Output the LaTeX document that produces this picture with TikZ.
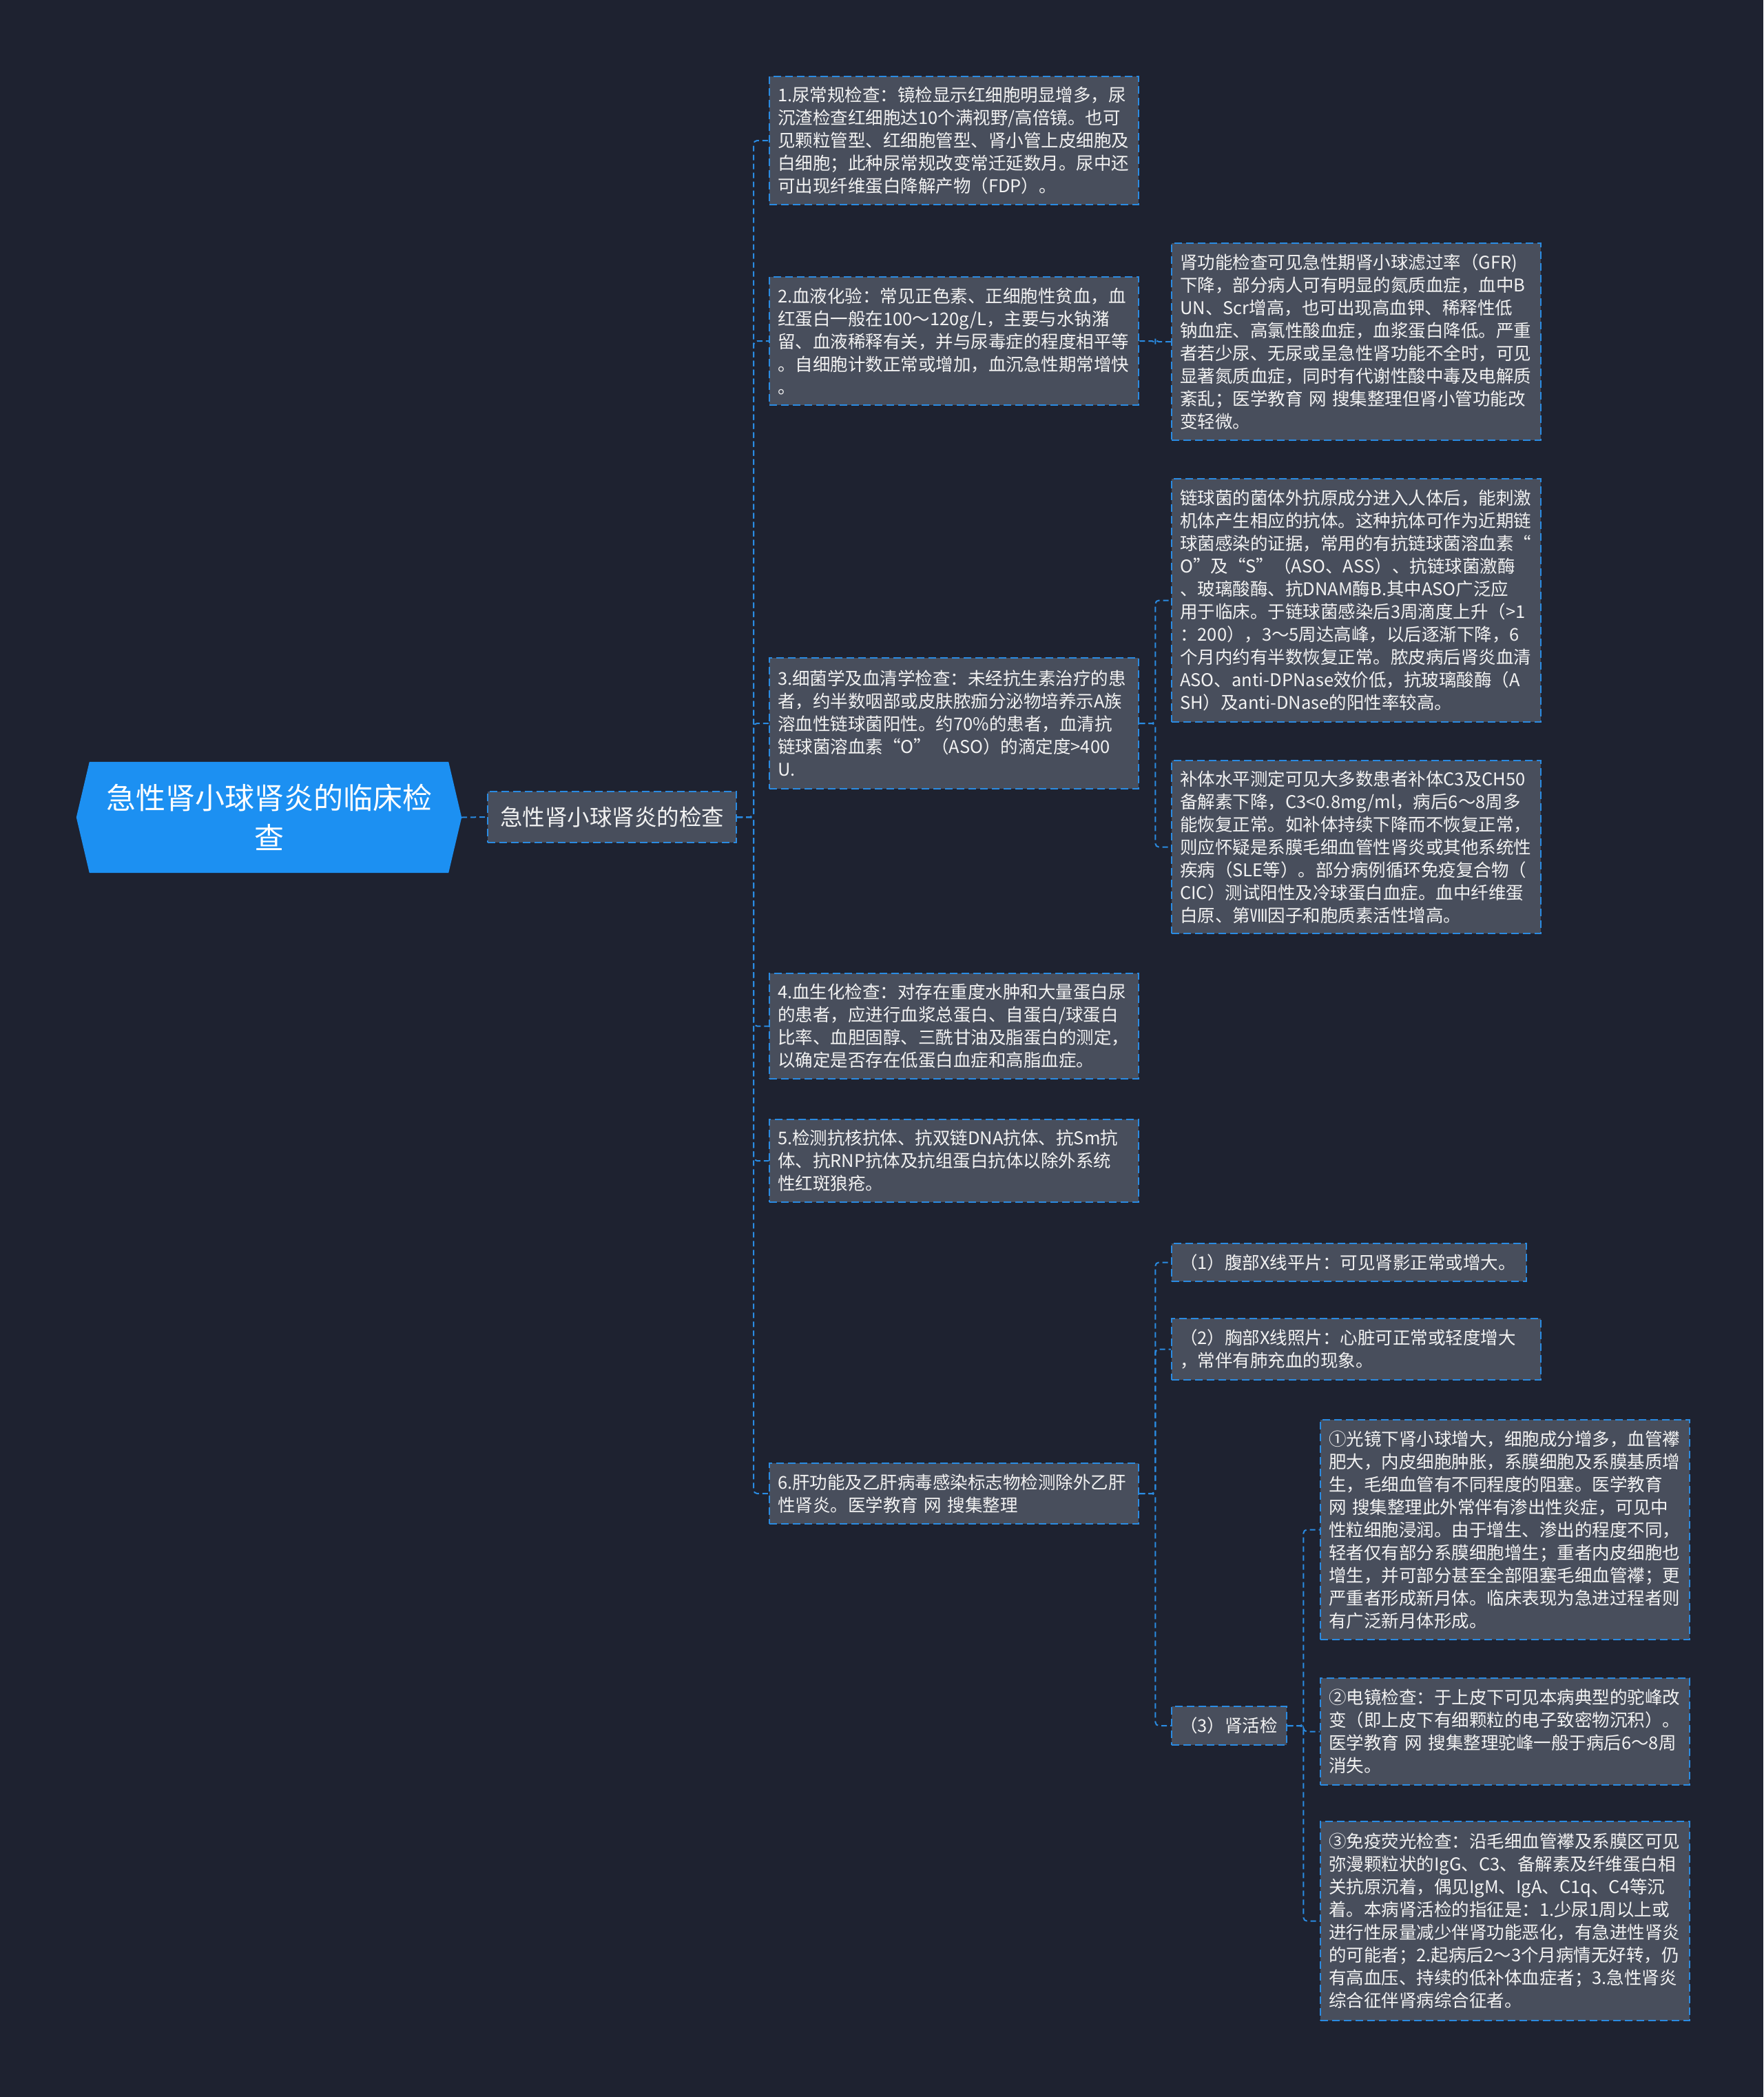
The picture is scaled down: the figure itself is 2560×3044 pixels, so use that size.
\documentclass[tikz,border=0pt]{standalone}
\usepackage{fontspec}
\newfontfamily\cjk{Noto Sans CJK SC}
\usetikzlibrary{backgrounds}
\definecolor{bgc}{HTML}{1E2230}
\definecolor{boxc}{HTML}{484E5C}
\definecolor{linec}{HTML}{2A8BE2}
\definecolor{rootc}{HTML}{1C90F2}
\definecolor{txtc}{HTML}{F2F2F2}
\tikzset{
  box/.style={draw=linec, line width=2.4pt, dash pattern=on 11pt off 6pt, fill=boxc,
    text=txtc, font={\cjk\fontsize{25.5pt}{33pt}\selectfont}, align=left,
    text width=512pt, inner xsep=12pt, inner ysep=0pt, anchor=west},
  conn/.style={draw=linec, line width=2pt, dash pattern=on 8pt off 5pt, rounded corners=5pt},
  rootn/.style={text=white, font={\cjk\fontsize{43pt}{58pt}\selectfont}, align=center,
    minimum width=521pt, minimum height=161pt, inner sep=0pt},
  lonen/.style={draw=linec, line width=2.4pt, dash pattern=on 11pt off 6pt, fill=boxc,
    text=txtc, font={\cjk\fontsize{32.5pt}{40pt}\selectfont},
    minimum width=361pt, minimum height=74pt, inner sep=0pt}
}
\begin{document}
\begin{tikzpicture}[x=1pt,y=1pt]
\useasboundingbox (0,0) rectangle (2560,-3044);

% root and level 1
\node[rootn] (root) at (390.5,-1186.5) {急性肾小球肾炎的临床检\\查};
\coordinate (roottip) at ([xshift=19pt]root.east);
\node[lonen] (L1) at (888.5,-1186) {急性肾小球肾炎的检查};

% level 2
\node[box, minimum height=186pt] (b1) at (1116,-204) {1.尿常规检查：镜检显示红细胞明显增多，尿\\沉渣检查红细胞达10个满视野/高倍镜。也可\\见颗粒管型、红细胞管型、肾小管上皮细胞及\\白细胞；此种尿常规改变常迁延数月。尿中还\\可出现纤维蛋白降解产物（FDP）。};
\node[box, minimum height=186pt] (b2) at (1116,-495) {2.血液化验：常见正色素、正细胞性贫血，血\\红蛋白一般在100～120g/L，主要与水钠潴\\留、血液稀释有关，并与尿毒症的程度相平等\\。自细胞计数正常或增加，血沉急性期常增快\\。};
\node[box, minimum height=190pt] (b3) at (1116,-1050) {3.细菌学及血清学检查：未经抗生素治疗的患\\者，约半数咽部或皮肤脓痂分泌物培养示A族\\溶血性链球菌阳性。约70\%的患者，血清抗\\链球菌溶血素“O”（ASO）的滴定度>400\\U.};
\node[box, minimum height=153pt] (b4) at (1116,-1489.5) {4.血生化检查：对存在重度水肿和大量蛋白尿\\的患者，应进行血浆总蛋白、自蛋白/球蛋白\\比率、血胆固醇、三酰甘油及脂蛋白的测定，\\以确定是否存在低蛋白血症和高脂血症。};
\node[box, minimum height=120pt] (b5) at (1116,-1685) {5.检测抗核抗体、抗双链DNA抗体、抗Sm抗\\体、抗RNP抗体及抗组蛋白抗体以除外系统\\性红斑狼疮。};
\node[box, minimum height=88pt] (b6) at (1116,-2168) {6.肝功能及乙肝病毒感染标志物检测除外乙肝\\性肾炎。医学教育~网~搜集整理};

% level 3
\node[box, minimum height=286pt] (a2) at (1700,-496) {肾功能检查可见急性期肾小球滤过率（GFR)\\下降，部分病人可有明显的氮质血症，血中B\\UN、Scr增高，也可出现高血钾、稀释性低\\钠血症、高氯性酸血症，血浆蛋白降低。严重\\者若少尿、无尿或呈急性肾功能不全时，可见\\显著氮质血症，同时有代谢性酸中毒及电解质\\紊乱；医学教育~网~搜集整理但肾小管功能改\\变轻微。};
\node[box, minimum height=353pt] (a3) at (1700,-871.5) {链球菌的菌体外抗原成分进入人体后，能刺激\\机体产生相应的抗体。这种抗体可作为近期链\\球菌感染的证据，常用的有抗链球菌溶血素“\\O”及“S”（ASO、ASS）、抗链球菌激酶\\、玻璃酸酶、抗DNAM酶B.其中ASO广泛应\\用于临床。于链球菌感染后3周滴度上升（>1\\：200），3～5周达高峰，以后逐渐下降，6\\个月内约有半数恢复正常。脓皮病后肾炎血清\\ASO、anti-DPNase效价低，抗玻璃酸酶（A\\SH）及anti-DNase的阳性率较高。};
\node[box, minimum height=251pt] (a4) at (1700,-1229.5) {补体水平测定可见大多数患者补体C3及CH50\\备解素下降，C3<0.8mg/ml，病后6～8周多\\能恢复正常。如补体持续下降而不恢复正常，\\则应怀疑是系膜毛细血管性肾炎或其他系统性\\疾病（SLE等）。部分病例循环免疫复合物（\\CIC）测试阳性及冷球蛋白血症。血中纤维蛋\\白原、第Ⅷ因子和胞质素活性增高。};
\node[box, minimum height=55pt, text width=491pt] (c1) at (1700,-1832.5) {（1）腹部X线平片：可见肾影正常或增大。};
\node[box, minimum height=89pt] (c2) at (1700,-1958.5) {（2）胸部X线照片：心脏可正常或轻度增大\\，常伴有肺充血的现象。};
\node[box, minimum height=56pt, text width=143pt] (c3) at (1700,-2505) {（3）肾活检};

% level 4
\node[box, minimum height=319pt] (d1) at (1916,-2220.5) {①光镜下肾小球增大，细胞成分增多，血管襻\\肥大，内皮细胞肿胀，系膜细胞及系膜基质增\\生，毛细血管有不同程度的阻塞。医学教育\\网~搜集整理此外常伴有渗出性炎症，可见中\\性粒细胞浸润。由于增生、渗出的程度不同，\\轻者仅有部分系膜细胞增生；重者内皮细胞也\\增生，并可部分甚至全部阻塞毛细血管襻；更\\严重者形成新月体。临床表现为急进过程者则\\有广泛新月体形成。};
\node[box, minimum height=155pt] (d2) at (1916,-2513.5) {②电镜检查：于上皮下可见本病典型的驼峰改\\变（即上皮下有细颗粒的电子致密物沉积）。\\医学教育~网~搜集整理驼峰一般于病后6～8周\\消失。};
\node[box, minimum height=289pt] (d3) at (1916,-2788.5) {③免疫荧光检查：沿毛细血管襻及系膜区可见\\弥漫颗粒状的IgG、C3、备解素及纤维蛋白相\\关抗原沉着，偶见IgM、IgA、C1q、C4等沉\\着。本病肾活检的指征是：1.少尿1周以上或\\进行性尿量减少伴肾功能恶化，有急进性肾炎\\的可能者；2.起病后2～3个月病情无好转，仍\\有高血压、持续的低补体血症者；3.急性肾炎\\综合征伴肾病综合征者。};

% connectors
\draw[conn] (roottip) -- (L1.west);
\foreach \t in {b1,b2,b3,b4,b5,b6}
  \draw[conn] (L1.east) -- ++(24,0) |- (\t.west);
\draw[conn] (b2.east) -- ++(23,0) |- (a2.west);
\foreach \t in {a3,a4}
  \draw[conn] (b3.east) -- ++(23,0) |- (\t.west);
\foreach \t in {c1,c2,c3}
  \draw[conn] (b6.east) -- ++(23,0) |- (\t.west);
\foreach \t in {d1,d2,d3}
  \draw[conn] (c3.east) -- ++(23,0) |- (\t.west);

\begin{scope}[on background layer]
\fill[bgc] (0,0) rectangle (2560,-3044);
\fill[rootc] (root.north west) -- (root.north east) -- (roottip) -- (root.south east)
  -- (root.south west) -- ([xshift=-19pt]root.west) -- cycle;
\end{scope}
\end{tikzpicture}
\end{document}
